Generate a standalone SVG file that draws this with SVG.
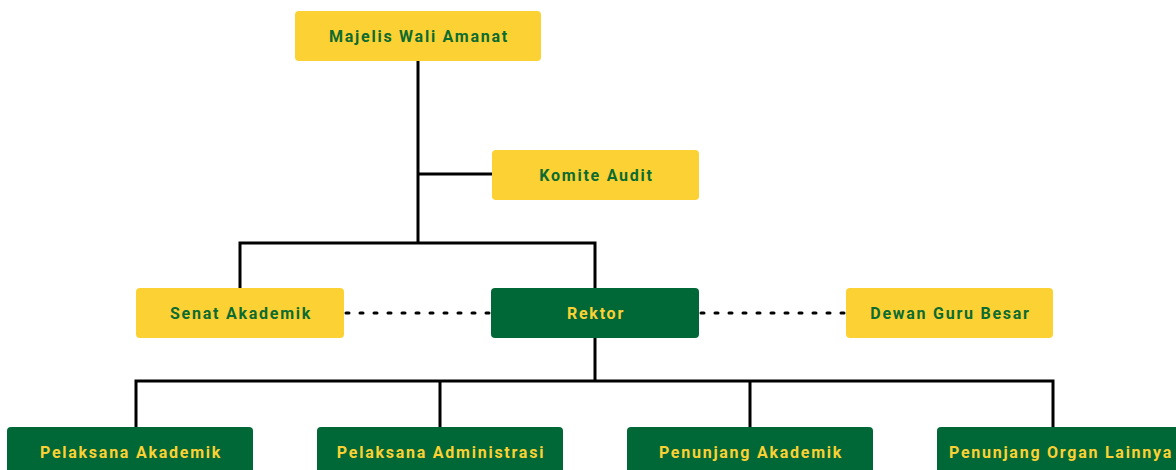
<svg xmlns="http://www.w3.org/2000/svg" width="1176" height="470" viewBox="0 0 1176 470">
<style>
.y rect{fill:#FCD133}
.g rect{fill:#006837}
text{font-family:Roboto,"Liberation Sans",sans-serif;font-weight:bold;font-size:16px;letter-spacing:1.75px;text-anchor:middle}
.y text{fill:#0B6B30}
.g text{fill:#FCD133}
.ln{fill:none;stroke:#000;stroke-width:3}
.dot{fill:none;stroke:#000;stroke-width:3;stroke-linecap:round;stroke-dasharray:3 11}
</style>
<rect width="1176" height="470" fill="#fff"/>
<g id="connectors">
<path class="ln" d="M418 61V243M418 174H492M240 288V243H595V288M595 338V381M136 427V381H1053V427M440 381V427M750 381V427"/>
<path class="dot" d="M346 313H490M701 313H845"/>
</g>
<g id="majelis" class="y"><rect x="295" y="11" width="246" height="50" rx="4"/><text x="419" y="42">Majelis Wali Amanat</text></g>
<g id="komite" class="y"><rect x="492" y="150" width="207" height="50" rx="4"/><text x="596.5" y="181">Komite Audit</text></g>
<g id="senat" class="y"><rect x="136" y="288" width="208" height="50" rx="4"/><text x="241" y="319">Senat Akademik</text></g>
<g id="rektor" class="g"><rect x="491" y="288" width="208" height="50" rx="4"/><text x="596" y="319">Rektor</text></g>
<g id="dewan" class="y"><rect x="846" y="288" width="207" height="50" rx="4"/><text x="950.5" y="319">Dewan Guru Besar</text></g>
<g id="pel-akademik" class="g"><rect x="7" y="427" width="246" height="50" rx="4"/><text x="131" y="458">Pelaksana Akademik</text></g>
<g id="pel-admin" class="g"><rect x="317" y="427" width="246" height="50" rx="4"/><text x="441" y="458">Pelaksana Administrasi</text></g>
<g id="pen-akademik" class="g"><rect x="627" y="427" width="246" height="50" rx="4"/><text x="751" y="458">Penunjang Akademik</text></g>
<g id="pen-organ" class="g"><rect x="937" y="427" width="246" height="50" rx="4"/><text x="1061" y="458">Penunjang Organ Lainnya</text></g>
</svg>
